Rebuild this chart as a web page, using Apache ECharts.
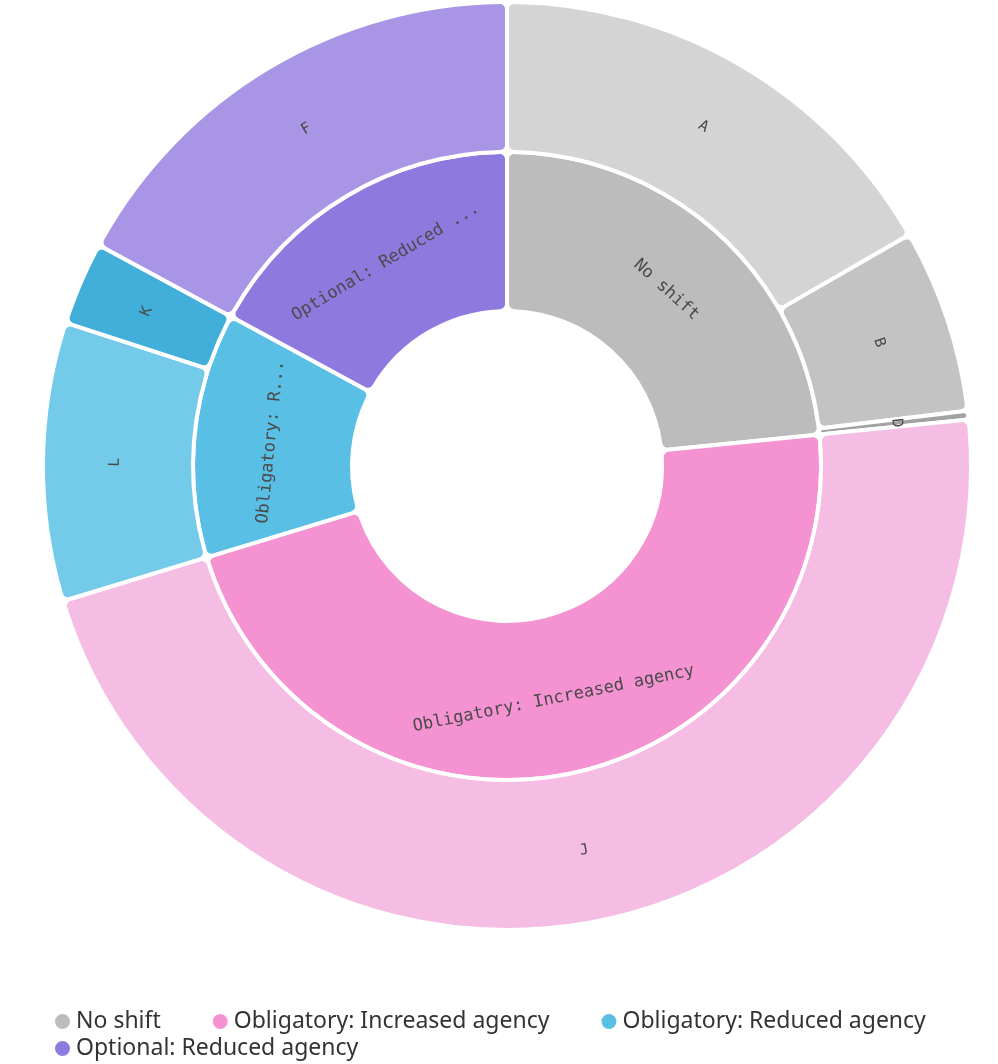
<!DOCTYPE html>
<html>
<head>
<meta charset="utf-8">
<script src="https://cdn.jsdelivr.net/npm/echarts@6/dist/echarts.min.js"></script>
<style>
  html, body { margin: 0; padding: 0; background: #fff; }
  #shiftChart { width: 998px; height: 1064px; }
</style>
</head>
<body>
<div id="shiftChart"></div>
<script>
// inner ring: groups
const groupNames = ['No shift', 'Obligatory: Increased agency', 'Obligatory: Reduced agency', 'Optional: Reduced agency']
const groupValues = [23.4, 46.9, 12.6, 17.1]
const groupColors = ['#bcbcbc', '#f492d2', '#59bfe4', '#8e7ade']

// outer ring: items, in the same clockwise order
const itemNames = ['A', 'B', 'D', 'J', 'L', 'K', 'F']
const itemValues = [16.7, 6.4, 0.3, 46.9, 9.7, 2.9, 17.1]
const itemColors = ['#d4d4d4', '#c3c3c3', '#a2a2a2', '#f5bde3', '#74cbe9', '#41afd9', '#a895e5']

// label width / ellipsis before truncation (inner ring)
const groupLabelWidth = [200, 360, 165, 226]
const groupEllipsis = ['...', '...', '...', ' ...']

let myChart = echarts.init(document.getElementById('shiftChart'))

let innerData = []
for (let i = 0; i < groupNames.length; i++) {
  innerData.push({
    name: groupNames[i],
    value: groupValues[i],
    itemStyle: { color: groupColors[i] },
    label: { width: groupLabelWidth[i], ellipsis: groupEllipsis[i] }
  })
}
let outerData = []
for (let i = 0; i < itemNames.length; i++) {
  outerData.push({
    name: itemNames[i],
    value: itemValues[i],
    itemStyle: { color: itemColors[i] }
  })
}

const labelStyle = {
  position: 'inside',
  rotate: 'tangential',
  color: '#4a4a4a',
  fontFamily: 'DejaVu Sans Mono',
  fontSize: 17,
  overflow: 'truncate',
  ellipsis: '...'
}

const legendStyle = {
  left: 48,
  icon: 'circle',
  itemWidth: 17,
  itemHeight: 17,
  itemGap: 50,
  textStyle: {
    fontFamily: 'Noto Sans',
    fontSize: 23,
    color: '#333'
  }
}

myChart.setOption({
  animation: false,
  legend: [
    Object.assign({ data: groupNames.slice(0, 3), top: 1005 }, legendStyle),
    Object.assign({ data: groupNames.slice(3), top: 1032 }, legendStyle)
  ],
  series: [
    {
      name: 'groups',
      type: 'pie',
      center: [507, 466],
      radius: [155, 314],
      startAngle: 90,
      clockwise: true,
      avoidLabelOverlap: false,
      itemStyle: { borderColor: '#fff', borderWidth: 4, borderRadius: 7 },
      label: labelStyle,
      labelLine: { show: false },
      emphasis: { disabled: true },
      data: innerData
    },
    {
      name: 'items',
      type: 'pie',
      center: [507, 466],
      radius: [314, 464],
      startAngle: 90,
      clockwise: true,
      avoidLabelOverlap: false,
      itemStyle: { borderColor: '#fff', borderWidth: 4, borderRadius: 7 },
      label: Object.assign({}, labelStyle, { fontSize: 15 }),
      labelLine: { show: false },
      emphasis: { disabled: true },
      data: outerData
    }
  ]
})
</script>
</body>
</html>
